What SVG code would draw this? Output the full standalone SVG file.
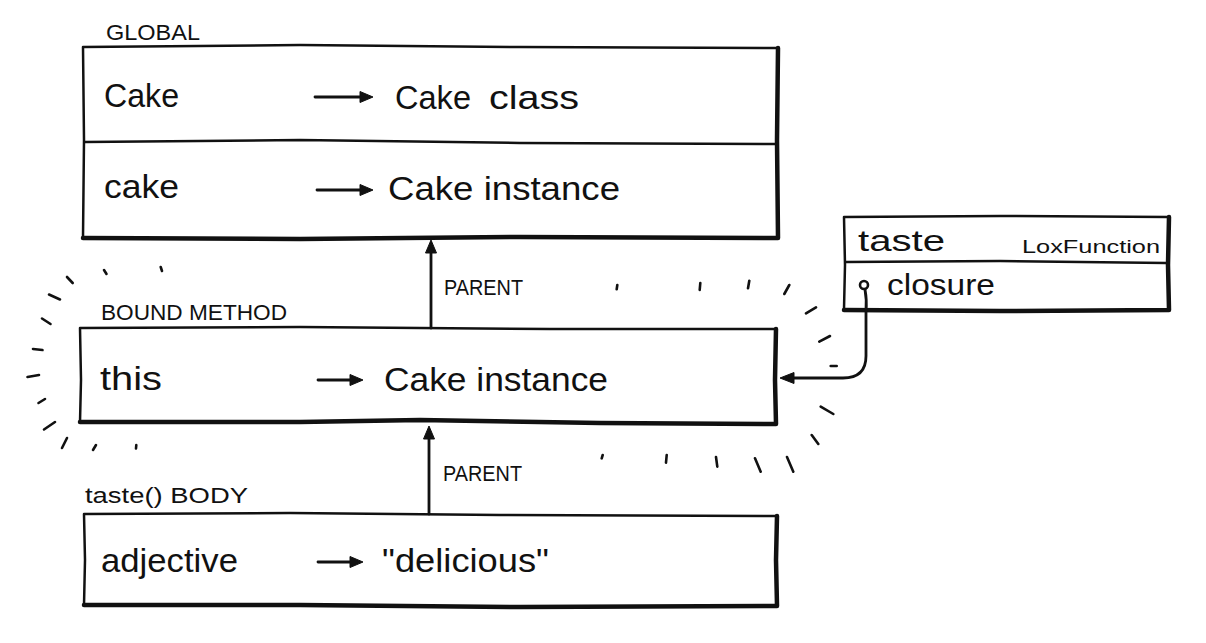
<svg xmlns="http://www.w3.org/2000/svg" width="1206" height="643" viewBox="0 0 1206 643">
<defs>
<style>
.big{font-family:"Liberation Sans",Arial,sans-serif;font-size:34px;fill:#111}
.med{font-family:"Liberation Sans",Arial,sans-serif;font-size:30px;fill:#111}
.cap{font-family:"Liberation Sans",Arial,sans-serif;font-size:22px;fill:#111}
.sm{font-family:"Liberation Sans",Arial,sans-serif;font-size:18px;fill:#111}
.thin{fill:none;stroke:#111;stroke-width:2.5;stroke-linecap:round;stroke-linejoin:round}
.thick{fill:none;stroke:#111;stroke-width:4.5;stroke-linecap:round;stroke-linejoin:round}
.conn{fill:none;stroke:#111;stroke-width:2.8;stroke-linecap:round}
.head{fill:#111;stroke:#111;stroke-width:1;stroke-linejoin:round}
.mark{fill:none;stroke:#111;stroke-width:2.6;stroke-linecap:round}
</style>
</defs>
<rect width="1206" height="643" fill="#fff"/>

<g id="global">
<text class="cap" x="106" y="40" textLength="94" lengthAdjust="spacingAndGlyphs">GLOBAL</text>
<path class="thin" d="M83 47 L300 45 L520 47 L777 48 M83 47 L84 140 L83 237"/>
<path class="thick" d="M778 48 L777 140 L778 238 M83 238 L300 239 L520 237 L778 238"/>
<path class="thin" d="M85 142 L300 140 L520 143 L775 144"/>
<text class="big" x="104" y="107" textLength="75" lengthAdjust="spacingAndGlyphs">Cake</text>
<text class="big" x="395" y="109" textLength="76" lengthAdjust="spacingAndGlyphs">Cake</text>
<text class="big" x="489" y="109" textLength="90" lengthAdjust="spacingAndGlyphs">class</text>
<text class="big" x="104" y="198" textLength="75" lengthAdjust="spacingAndGlyphs">cake</text>
<text class="big" x="388" y="200" textLength="232" lengthAdjust="spacingAndGlyphs">Cake instance</text>
<path class="conn" d="M315 97 L361 97"/>
<path class="head" d="M373 97 L360 91.5 L360 102.5 Z"/>
<path class="conn" d="M317 190 L361 190"/>
<path class="head" d="M373 190 L360 184.5 L360 195.5 Z"/>
</g>

<g id="bound-method">
<text class="cap" x="101" y="320" textLength="186" lengthAdjust="spacingAndGlyphs">BOUND METHOD</text>
<path class="thin" d="M80 328 L300 327 L550 329 L775 329 M80 328 L81 380 L80 422"/>
<path class="thick" d="M776 329 L775 380 L776 424 M80 422 L300 422 L420 420 L600 423 L776 424"/>
<text class="big" x="100" y="390" textLength="62" lengthAdjust="spacingAndGlyphs">this</text>
<text class="big" x="384" y="391" textLength="224" lengthAdjust="spacingAndGlyphs">Cake instance</text>
<path class="conn" d="M318 380 L351 380"/>
<path class="head" d="M363 380 L350 374.5 L350 385.5 Z"/>
</g>

<g id="taste-body">
<text class="cap" x="85" y="503" textLength="163" lengthAdjust="spacingAndGlyphs">taste() BODY</text>
<path class="thin" d="M84 514 L290 513 L500 515 L776 516 M84 514 L85 560 L84 605"/>
<path class="thick" d="M777 516 L776 560 L777 606 M84 605 L300 605 L520 607 L777 606"/>
<text class="big" x="101" y="572" textLength="137" lengthAdjust="spacingAndGlyphs">adjective</text>
<text class="big" x="382" y="572" textLength="167" lengthAdjust="spacingAndGlyphs">"delicious"</text>
<path class="conn" d="M318 562 L351 562"/>
<path class="head" d="M363 562 L350 556.5 L350 567.5 Z"/>
</g>

<g id="lox-function">
<path class="thin" d="M844 217 L1000 216 L1168 217 M844 217 L845 265 L844 309"/>
<path class="thick" d="M1169 217 L1168 265 L1169 310 M844 310 L1000 311 L1169 310"/>
<path class="thin" d="M846 262 L1000 261 L1166 263"/>
<text class="med" x="858" y="251" textLength="87" lengthAdjust="spacingAndGlyphs">taste</text>
<text class="sm" x="1022" y="253" textLength="138" lengthAdjust="spacingAndGlyphs">LoxFunction</text>
<text class="med" x="887" y="295" textLength="108" lengthAdjust="spacingAndGlyphs">closure</text>
<circle cx="864" cy="285" r="4" fill="#fff" stroke="#111" stroke-width="2.6"/>
</g>

<g id="connectors">
<path class="conn" d="M431 328 L431 252"/>
<path class="head" d="M431 240 L425.5 253 L436.5 253 Z"/>
<text class="cap" x="444" y="295" textLength="79" lengthAdjust="spacingAndGlyphs">PARENT</text>
<path class="conn" d="M429 514 L429 438"/>
<path class="head" d="M429 426 L423.5 439 L434.5 439 Z"/>
<text class="cap" x="443" y="481" textLength="79" lengthAdjust="spacingAndGlyphs">PARENT</text>
<path class="conn" d="M865 289.5 Q867 300 866 312 L866 356 Q866 378 843 378 L792 378"/>
<path class="head" d="M780 378 L794 372.5 L794 383.5 Z"/>
</g>

<g id="glow">
<path class="mark" d="M67 277 L72.7 283 M104 270 L106.5 274 M160.7 267 L162 271 M49 294.5 L60 299.5 M42 318.5 L50.5 324 M33 349 L42.5 350 M27.5 377 L39 375 M38.5 403 L45 399 M44 429.5 L55 422 M62 448 L67 438 M93 450 L96 445 M136 448.5 L136.3 445"/>
<path class="mark" d="M617.3 285 L616.7 289.3 M700.3 283 L699.7 290 M749.3 280.7 L748 288.3 M789.3 285 L784.3 294 M816 307.3 L806 313.3 M830 336 L819.3 341.7 M830.7 366 L836.7 366 M820.7 406.7 L833.3 414 M811.7 435 L818.3 444 M787 457 L793.3 471.7 M755 458.3 L760.7 471.7 M716 457 L717.3 466.7 M666.7 455 L666 462.7 M602.7 455 L601.7 458.3"/>
</g>
</svg>
